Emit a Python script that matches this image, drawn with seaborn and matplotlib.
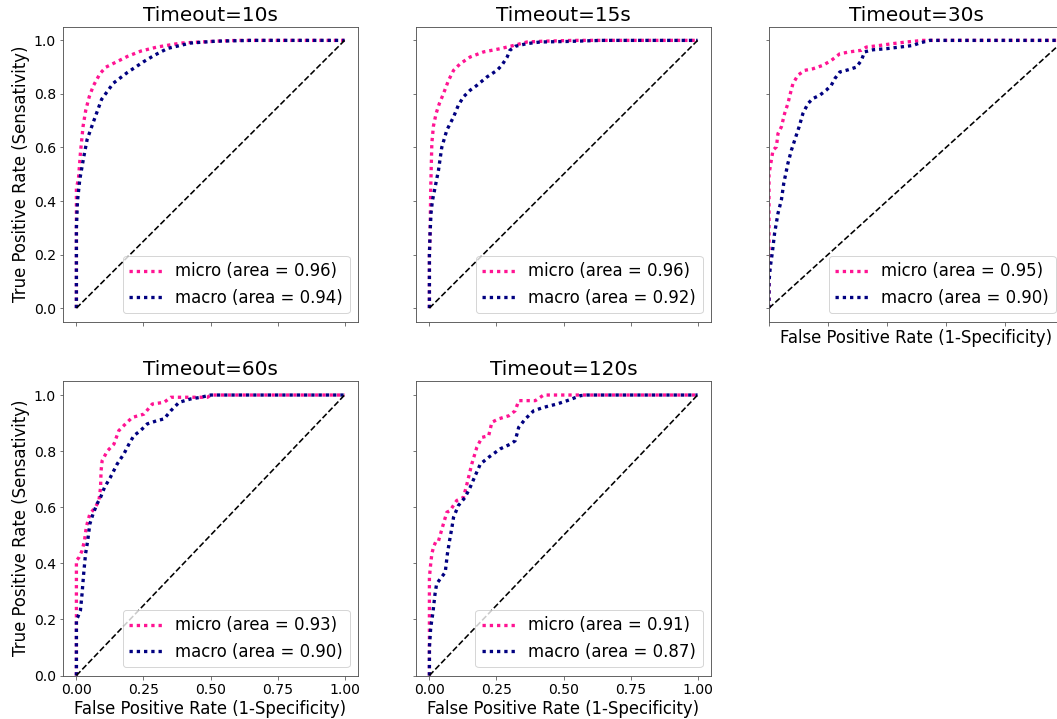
import numpy as np
import pandas as pd
import matplotlib
matplotlib.use("Agg")
import matplotlib.pyplot as plt
import seaborn as sns

# ---------------- data ----------------
timeouts = ["10s", "15s", "30s", "60s", "120s"]
micro_auc = [0.96, 0.96, 0.95, 0.93, 0.91]
macro_auc = [0.94, 0.92, 0.90, 0.90, 0.87]

micro_fpr_10 = [0, 0, 0.0075, 0.015, 0.025, 0.035, 0.048, 0.063, 0.088, 0.11, 0.15, 0.19, 0.24, 0.30, 0.39, 0.52, 0.60, 1.0]
micro_tpr_10 = [0, 0.45, 0.48, 0.58, 0.68, 0.74, 0.79, 0.83, 0.876, 0.90, 0.92, 0.94, 0.96, 0.975, 0.99, 0.997, 1.0, 1.0]
macro_fpr_10 = [0, 0, 0.004, 0.0125, 0.0275, 0.04, 0.065, 0.094, 0.1375, 0.19, 0.25, 0.29, 0.34, 0.425, 0.52, 0.65, 1.0]
macro_tpr_10 = [0, 0.30, 0.40, 0.48, 0.565, 0.63, 0.70, 0.78, 0.84, 0.88, 0.92, 0.944, 0.97, 0.99, 0.997, 1.0, 1.0]

micro_fpr_15 = [0, 0, 0.0025, 0.005, 0.009, 0.015, 0.025, 0.037, 0.052, 0.071, 0.09, 0.115, 0.152, 0.202, 0.264, 0.314, 0.364, 0.426, 0.54, 1.0]
micro_tpr_15 = [0, 0.20, 0.28, 0.45, 0.615, 0.68, 0.727, 0.764, 0.80, 0.85, 0.888, 0.913, 0.938, 0.957, 0.969, 0.981, 0.994, 0.997, 1.0, 1.0]
macro_fpr_15 = [0, 0, 0.0025, 0.006, 0.011, 0.021, 0.034, 0.046, 0.065, 0.09, 0.108, 0.127, 0.152, 0.177, 0.214, 0.252, 0.27, 0.29, 0.30, 0.32, 0.364, 0.414, 0.514, 0.64, 1.0]
macro_tpr_15 = [0, 0.20, 0.28, 0.354, 0.40, 0.45, 0.516, 0.60, 0.665, 0.714, 0.758, 0.789, 0.814, 0.832, 0.863, 0.888, 0.907, 0.938, 0.963, 0.978, 0.988, 0.994, 0.996, 1.0, 1.0]

micro_fpr_30 = [0, 0, 0.008, 0.0136, 0.025, 0.0305, 0.042, 0.053, 0.064, 0.072, 0.081, 0.098, 0.121, 0.149, 0.183, 0.211, 0.24, 0.273, 0.313, 0.33, 0.375, 0.42, 0.466, 0.522, 1.0]
micro_tpr_30 = [0, 0.50, 0.553, 0.59, 0.602, 0.652, 0.677, 0.727, 0.764, 0.80, 0.838, 0.87, 0.888, 0.894, 0.907, 0.925, 0.95, 0.957, 0.963, 0.975, 0.981, 0.988, 0.994, 1.0, 1.0]
macro_fpr_30 = [0, 0, 0.0045, 0.011, 0.019, 0.0305, 0.042, 0.05, 0.064, 0.076, 0.087, 0.102, 0.115, 0.132, 0.149, 0.172, 0.194, 0.211, 0.223, 0.24, 0.268, 0.296, 0.313, 0.324, 0.353, 0.398, 0.443, 0.488, 0.51, 0.545, 1.0]
macro_tpr_30 = [0, 0.10, 0.155, 0.205, 0.28, 0.354, 0.404, 0.466, 0.54, 0.59, 0.627, 0.677, 0.727, 0.764, 0.783, 0.795, 0.814, 0.832, 0.857, 0.882, 0.89, 0.90, 0.925, 0.957, 0.965, 0.969, 0.975, 0.981, 0.99, 1.0, 1.0]

micro_fpr_60 = [0, 0, 0.009, 0.021, 0.03, 0.037, 0.05, 0.071, 0.084, 0.09, 0.092, 0.096, 0.115, 0.14, 0.158, 0.183, 0.208, 0.252, 0.283, 0.327, 0.352, 0.489, 0.501, 1.0]
micro_tpr_60 = [0, 0.41, 0.42, 0.445, 0.48, 0.53, 0.576, 0.60, 0.624, 0.67, 0.73, 0.766, 0.80, 0.825, 0.873, 0.897, 0.92, 0.932, 0.968, 0.974, 0.992, 0.992, 1.0, 1.0]
macro_fpr_60 = [0, 0, 0.005, 0.015, 0.021, 0.027, 0.034, 0.042, 0.05, 0.062, 0.077, 0.09, 0.105, 0.127, 0.152, 0.177, 0.196, 0.214, 0.239, 0.264, 0.302, 0.327, 0.352, 0.383, 0.426, 0.464, 0.501, 1.0]
macro_tpr_60 = [0, 0.20, 0.208, 0.232, 0.291, 0.362, 0.433, 0.48, 0.54, 0.576, 0.612, 0.635, 0.671, 0.707, 0.754, 0.79, 0.825, 0.855, 0.873, 0.897, 0.909, 0.915, 0.944, 0.974, 0.986, 0.992, 1.0, 1.0]

micro_fpr_120 = [0, 0, 0.005, 0.009, 0.015, 0.025, 0.034, 0.052, 0.065, 0.077, 0.102, 0.127, 0.14, 0.158, 0.177, 0.196, 0.221, 0.233, 0.258, 0.296, 0.32, 0.333, 0.395, 0.426, 1.0]
micro_tpr_120 = [0, 0.35, 0.40, 0.433, 0.457, 0.48, 0.48, 0.54, 0.582, 0.588, 0.624, 0.635, 0.683, 0.754, 0.814, 0.849, 0.855, 0.903, 0.915, 0.926, 0.944, 0.98, 0.98, 1.0, 1.0]
macro_fpr_120 = [0, 0, 0.005, 0.0125, 0.021, 0.027, 0.04, 0.059, 0.067, 0.075, 0.084, 0.09, 0.108, 0.133, 0.152, 0.171, 0.19, 0.221, 0.264, 0.302, 0.32, 0.333, 0.358, 0.389, 0.426, 0.476, 0.514, 0.564, 0.589, 1.0]
macro_tpr_120 = [0, 0.10, 0.172, 0.22, 0.291, 0.327, 0.344, 0.368, 0.433, 0.48, 0.528, 0.564, 0.606, 0.635, 0.671, 0.713, 0.754, 0.778, 0.808, 0.825, 0.837, 0.885, 0.915, 0.944, 0.956, 0.968, 0.98, 0.998, 1.0, 1.0]

chance = [0, 1]

x_ticks = [0.0, 0.25, 0.5, 0.75, 1.0]
x_ticks_30 = [0.0, 0.2, 0.4, 0.6, 0.8, 1.0]
y_ticks = [0.0, 0.2, 0.4, 0.6, 0.8, 1.0]

micro_fpr = [micro_fpr_10, micro_fpr_15, micro_fpr_30, micro_fpr_60, micro_fpr_120]
micro_tpr = [micro_tpr_10, micro_tpr_15, micro_tpr_30, micro_tpr_60, micro_tpr_120]
macro_fpr = [macro_fpr_10, macro_fpr_15, macro_fpr_30, macro_fpr_60, macro_fpr_120]
macro_tpr = [macro_tpr_10, macro_tpr_15, macro_tpr_30, macro_tpr_60, macro_tpr_120]

# ---------------- style ----------------
sns.set_theme(style="ticks")
plt.rcParams.update({
    "font.family": ["DejaVu Sans"],
    "axes.edgecolor": "#555555",
    "axes.linewidth": 0.9,
    "xtick.color": "#555555",
    "ytick.color": "#555555",
    "xtick.labelcolor": "black",
    "ytick.labelcolor": "black",
    "xtick.major.size": 3.5,
    "ytick.major.size": 3.5,
    "xtick.major.width": 0.8,
    "ytick.major.width": 0.8,
    "text.color": "black",
    "axes.labelcolor": "black",
})

W, H, DPI = 1057, 719, 72
fig = plt.figure(figsize=(W / DPI, H / DPI), dpi=DPI)

col_left = [63, 416, 769]
row_top = [27, 381]
ax_w, ax_h = 295, 294.5

positions = [(0, 0), (0, 1), (0, 2), (1, 0), (1, 1)]
axes = []
for (r, c) in positions:
    left = col_left[c] / W
    bottom = 1 - (row_top[r] + ax_h) / H
    axes.append(fig.add_axes([left, bottom, ax_w / W, ax_h / H]))

TICK_FS, LABEL_FS, TITLE_FS = 14, 16.5, 20
DOT = (0, (1, 1.2))

for i, ax in enumerate(axes):
    sns.lineplot(x=micro_fpr[i], y=micro_tpr[i], ax=ax, sort=False, estimator=None,
                 color="deeppink", linestyle=DOT, linewidth=3.3,
                 label=f"micro (area = {micro_auc[i]:0.2f})")
    sns.lineplot(x=macro_fpr[i], y=macro_tpr[i], ax=ax, sort=False, estimator=None,
                 color="navy", linestyle=DOT, linewidth=3.3,
                 label=f"macro (area = {macro_auc[i]:0.2f})")
    sns.lineplot(x=chance, y=chance, ax=ax, sort=False, estimator=None,
                 color="black", linestyle="--", linewidth=1.6)
    ax.set_title(f"Timeout={timeouts[i]}", fontsize=TITLE_FS, pad=6)
    ax.legend(loc="lower right", fontsize=LABEL_FS)
    ax.tick_params(labelsize=TICK_FS)
    for s in ["top", "right"]:
        ax.spines[s].set_visible(True)
    ax.set_xlabel("")
    ax.set_ylabel("")
    ax.set_yticks(y_ticks)
    if i == 2:
        ax.set_xticks(x_ticks_30)
    else:
        ax.set_xticks(x_ticks)
        ax.set_xticklabels([f"{t:.2f}" for t in x_ticks])
    ax.set_yticklabels([f"{t:.1f}" for t in y_ticks])

# axis limits
for i in [0, 1]:
    axes[i].set_xlim(-0.05, 1.05)
    axes[i].set_ylim(-0.05, 1.05)
axes[2].set_xlim(0, 1)
axes[2].set_ylim(-0.05, 1.05)
for i in [3, 4]:
    axes[i].set_xlim(-0.05, 1.05)
    axes[i].set_ylim(0, 1.05)

xlab = "False Positive Rate (1-Specificity)"
ylab = "True Positive Rate (Sensativity)"
for i in [2, 3, 4]:
    axes[i].set_xlabel(xlab, fontsize=LABEL_FS)
for i in [0, 3]:
    axes[i].set_ylabel(ylab, fontsize=LABEL_FS)

for i in [0, 1, 2]:
    axes[i].tick_params(labelbottom=False)
for i in [1, 2, 4]:
    axes[i].tick_params(labelleft=False)

fig.savefig("out.png", dpi=DPI, facecolor="white")
